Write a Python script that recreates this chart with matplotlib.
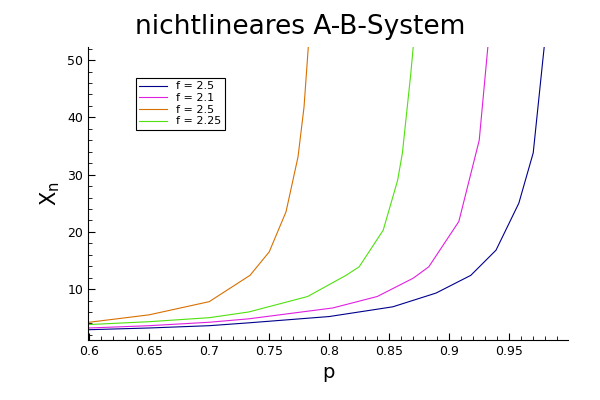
import matplotlib
matplotlib.use("Agg")
import matplotlib.pyplot as plt
from matplotlib.ticker import MultipleLocator

p_blue = [0.6,0.65,0.7,0.733,0.8,0.853,0.889,0.918,0.939,0.958,0.97,0.978,0.981]
x_blue = [2.9,3.2,3.6,4.1,5.2,6.9,9.3,12.4,16.8,25,33.8,50,56]
p_mag = [0.6,0.65,0.7,0.733,0.803,0.84,0.87,0.883,0.908,0.925,0.9325,0.934]
x_mag = [3.2,3.6,4.2,4.8,6.7,8.7,11.9,13.9,21.8,36,53,56]
p_or = [0.6,0.65,0.7,0.734,0.75,0.764,0.774,0.779,0.7828,0.784]
x_or = [4.2,5.5,7.8,12.4,16.5,23.5,33.1,41.8,53,56]
p_gr = [0.6,0.65,0.7,0.733,0.782,0.814,0.825,0.845,0.857,0.861,0.868,0.8703,0.871]
x_gr = [3.8,4.3,5.0,6.0,8.7,12.4,13.9,20.3,29,33.8,47.7,53,56]

fig = plt.figure(figsize=(6,4), dpi=100)
ax = fig.add_axes([0.1467, 0.15, 0.8, 0.7325])
ax.plot(p_blue, x_blue, color='#00008b', lw=0.8, label='f = 2.5')
ax.plot(p_mag, x_mag, color='#e020e0', lw=0.8, label='f = 2.1')
ax.plot(p_or, x_or, color='#d87000', lw=0.8, label='f = 2.5')
ax.plot(p_gr, x_gr, color='#50e010', lw=0.8, label='f = 2.25')
ax.set_xlim(0.599, 0.999)
ax.set_ylim(1.1, 52.3)
ax.spines['top'].set_visible(False)
ax.spines['right'].set_visible(False)
ax.xaxis.set_minor_locator(MultipleLocator(0.01))
ax.yaxis.set_major_locator(MultipleLocator(10))
ax.yaxis.set_minor_locator(MultipleLocator(2))
ax.set_xticks([0.6,0.65,0.7,0.75,0.8,0.85,0.9,0.95])
ax.set_xticklabels(['0.6','0.65','0.7','0.75','0.8','0.85','0.9','0.95'])
ax.set_yticks([10,20,30,40,50])
ax.tick_params(direction='in', labelsize=9, length=5)
ax.tick_params(which='minor', direction='in', length=3)
ax.set_xlabel('p', fontsize=14)
ax.set_ylabel('$\\mathrm{X_n}$', fontsize=15)
fig.suptitle('nichtlineares A-B-System', fontsize=19, y=0.965)
leg = ax.legend(loc='upper left', bbox_to_anchor=(0.1, 0.894), fontsize=8, fancybox=False,
                edgecolor='black', handlelength=2.5, borderpad=0.3, labelspacing=0.15,
                framealpha=1, borderaxespad=0)
leg.get_frame().set_linewidth(0.8)
fig.savefig('out.png')
